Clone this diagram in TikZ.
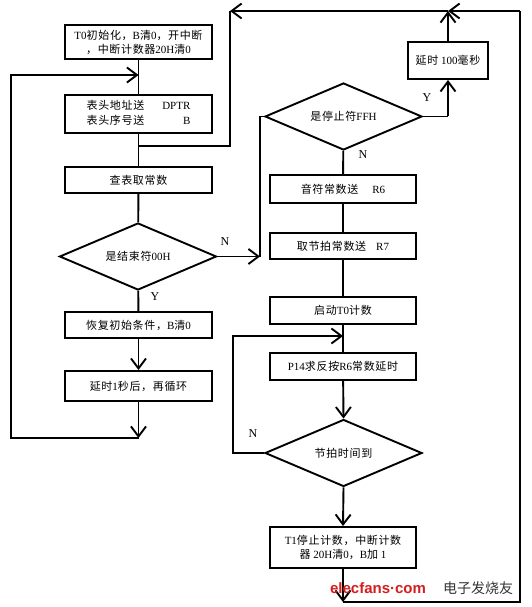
\documentclass[tikz,border=0pt]{standalone}
\usepackage{fontspec}
\setmainfont{Liberation Serif}
\newfontfamily\cjk[LetterSpace=6]{Noto Sans CJK SC}
\newfontfamily\cjkwm{Noto Sans CJK SC}
\newfontfamily\wmfont{Liberation Sans}
\usetikzlibrary{shapes.geometric,arrows.meta}
\newcommand\zhc[1]{{\cjk #1}}
\begin{document}
\begin{tikzpicture}[x=1pt,y=-1pt,
  every node/.style={font=\fontsize{11}{14}\selectfont},
  box/.style={draw,line width=1.9pt,minimum width=147pt,inner sep=0pt,align=center},
  dia/.style={draw,diamond,line width=1.9pt,minimum width=157pt,minimum height=67pt,inner sep=0pt,aspect=2.34},
  ln/.style={line width=1.9pt},
  arr/.style={line width=1.9pt,-{Straight Barb[length=10pt,width=15pt,line width=1.9pt]}},
  lbl/.style={font=\fontsize{12}{12}\selectfont}]
\useasboundingbox (0,0) rectangle (532,607);
% left column
\node[box,minimum height=34pt] (b1) at (138.5,42) {T0\zhc{初始化，}B\zhc{清}0\zhc{，开中断}\\\zhc{，中断计数器}20H\zhc{清}0};
\node[box,minimum height=38pt] (b2) at (138.5,114) {\begin{tabular}{@{}l@{\hspace{18pt}}r@{}}\zhc{表头地址送} & DPTR\\[1pt] \zhc{表头序号送} & B\end{tabular}};
\node[box,minimum height=26pt] (b3) at (138.5,180) {\zhc{查表取常数}};
\node[dia] (d1) at (138,256.5) {\zhc{是结束符}00H};
\node[box,minimum height=26pt] (b4) at (138.5,325) {\zhc{恢复初始条件，}B\zhc{清}0};
\node[box,minimum height=30pt] (b5) at (138.5,386) {\zhc{延时}1\zhc{秒后，再循环}};
% right column
\node[dia] (d2) at (343.5,116.5) {\zhc{是停止符}FFH};
\node[box,minimum width=80pt,minimum height=37pt] (b100) at (448,60.5) {\zhc{延时} 100\zhc{毫秒}};
\node[box,minimum width=146pt,minimum height=28pt] (r6) at (343,189) {\zhc{音符常数送}\hspace{14pt}R6};
\node[box,minimum width=146pt,minimum height=26pt] (r7) at (343,246) {\zhc{取节拍常数送}\hspace{10pt}R7};
\node[box,minimum width=146pt,minimum height=27pt] (t0) at (343,310.5) {\zhc{启动}T0\zhc{计数}};
\node[box,minimum width=146pt,minimum height=27pt] (p14) at (343,366.5) {P14\zhc{求反按}R6\zhc{常数延时}};
\node[dia] (d3) at (343.5,453) {\zhc{节拍时间到}};
\node[box,minimum width=146pt,minimum height=41pt] (t1) at (343,547.5) {T1\zhc{停止计数，中断计数}\\\zhc{器} 20H\zhc{清}0\zhc{，}B\zhc{加} 1};
% coordinates
\coordinate (c1) at (138.5,438);
\coordinate (c2) at (138.5,75);
\coordinate (c3) at (138.5,146);
\coordinate (c4) at (230,11);
\coordinate (c5) at (520,11);
\coordinate (c6) at (448,11);
\coordinate (c7) at (260,256.5);
\coordinate (c8) at (343,336);
\coordinate (c9) at (343,602);
% left column connectors
\draw[ln] (b1) -- (b2);
\draw[ln] (b2) -- (b3);
\draw[ln] (b3) -- (d1);
\draw[ln] (d1) -- (b4);
\draw[arr] (b4) -- (b5);
\draw[arr] (b5) -- (c1);
\draw[arr] (c1) -- (11,438) -- (11,75) -- (c2);
% return line along the top
\draw[arr] (c5) -- (c6);
\draw[arr] (c6) -- (c4);
\draw[ln] (c4) -- (230,146) -- (c3);
% N branch of d1
\draw[arr] (d1.east) -- (c7);
\draw[ln] (c7) -- (260,116.5) -- (d2.west);
% right column
\draw[ln] (d2.east) -- (448,116.5) coordinate (c10);
\draw[arr] (c10) -- (b100.south);
\draw[arr] (b100.north) -- (c6);
\draw[ln] (d2) -- (r6);
\draw[ln] (r6) -- (r7);
\draw[ln] (r7) -- (t0);
\draw[ln] (t0) -- (p14);
\draw[arr] (p14) -- (d3.north);
\draw[arr] (d3.west) -- (233,453) -- (233,336) -- (c8);
\draw[arr] (d3.south) -- (t1.north);
\draw[arr] (t1.south) -- (c9);
\draw[ln] (c9) -- (520,602) -- (c5);
% labels
\node[lbl] (lN1) at (225,242) {N};
\node[lbl] (lY1) at (155,297) {Y};
\node[lbl] (lY2) at (427,98) {Y};
\node[lbl] (lN2) at (363,155) {N};
\node[lbl] (lN3) at (253,434) {N};
% watermark
\node[font=\wmfont\bfseries\fontsize{15}{15}\selectfont,text={rgb,255:red,210;green,30;blue,30}] (wm1) at (378,588) {elecfans·com};
\node[font=\cjkwm\fontsize{14}{14}\selectfont,text=black!80] (wm2) at (478,588) {电子发烧友};
\end{tikzpicture}
\end{document}
